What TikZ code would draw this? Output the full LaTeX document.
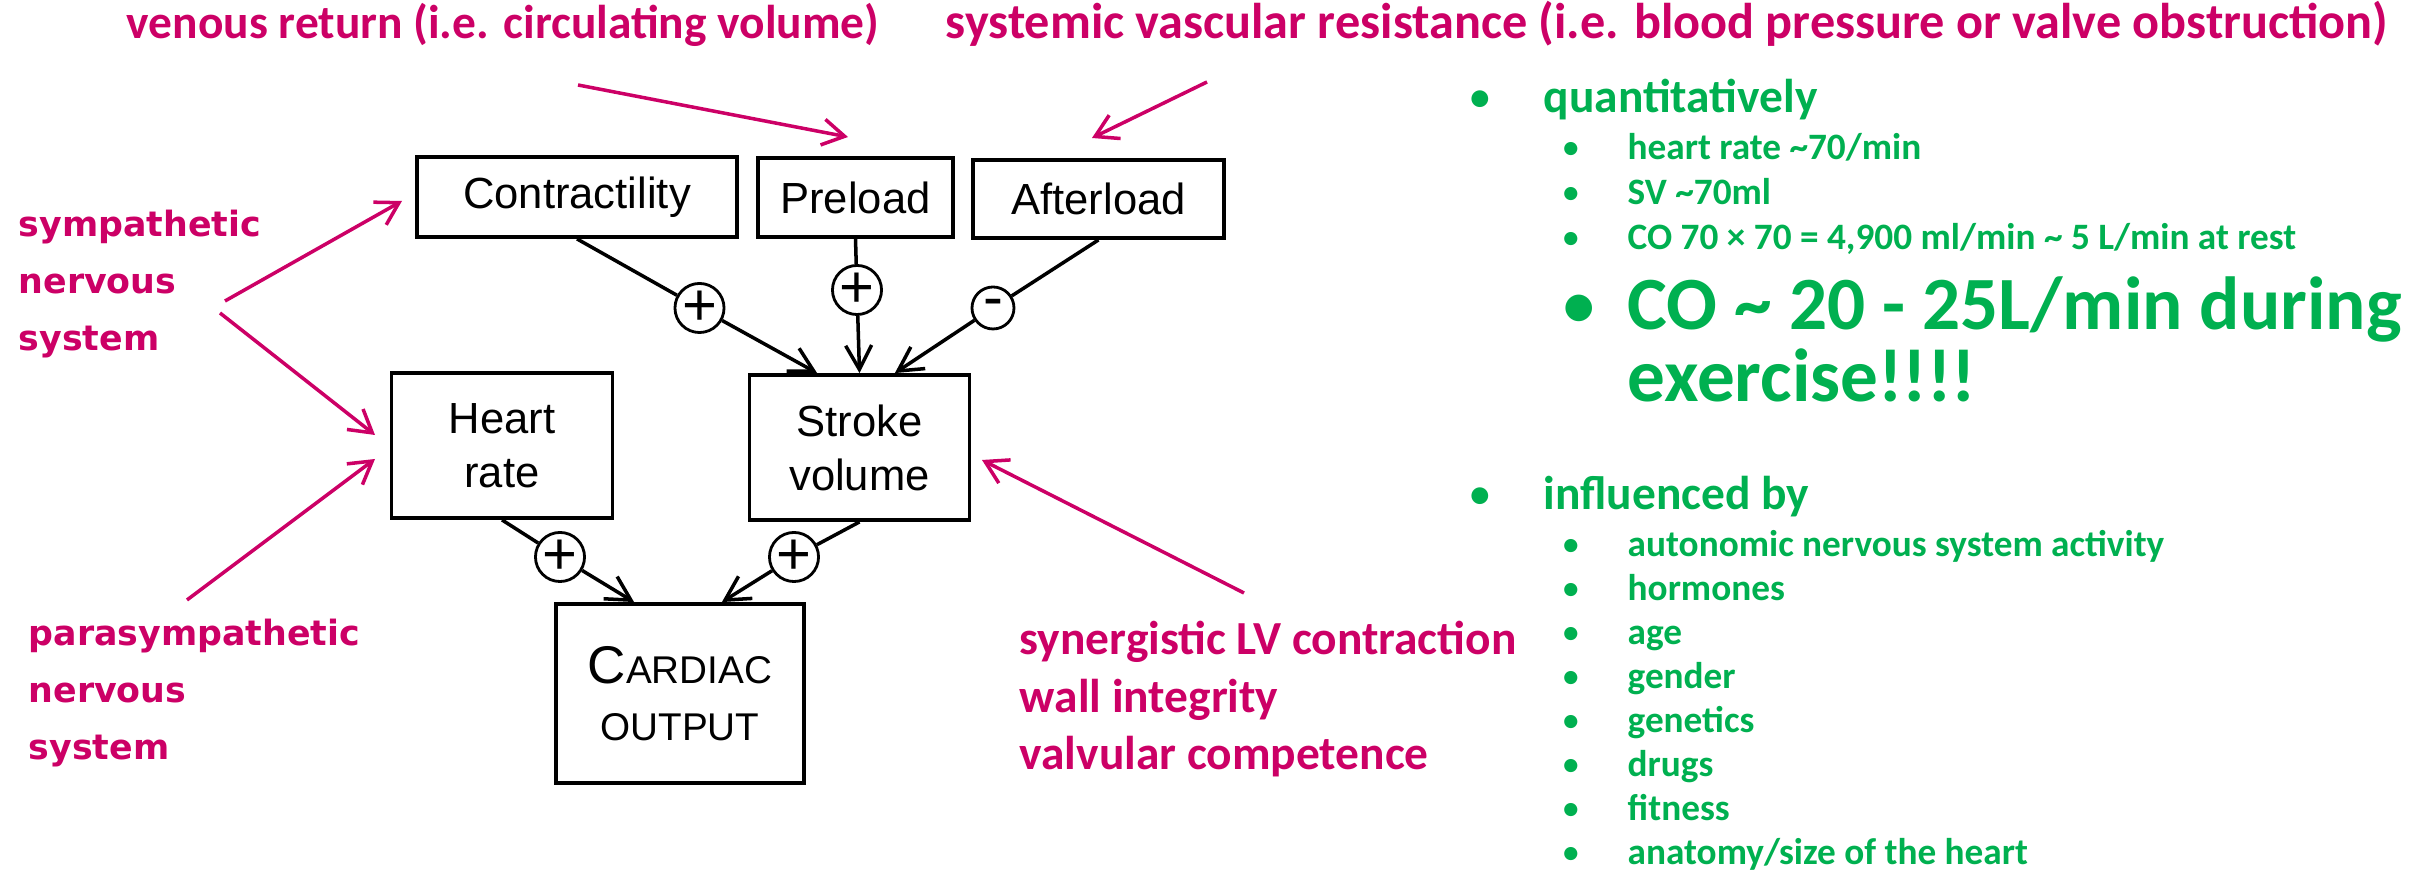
\documentclass[tikz,border=0pt]{standalone}
\usepackage{fontspec}
\setmainfont{Carlito}
\newfontfamily\boxfont{Liberation Sans}
\newfontfamily\nervefont{DejaVu Sans}
\usetikzlibrary{arrows.meta,positioning}
\definecolor{notepink}{RGB}{204,0,102}
\definecolor{notegreen}{RGB}{0,176,80}

\begin{document}
\begin{tikzpicture}[
		x=0.1mm, y=-0.1mm,
		block/.style={
			draw,
			line width=1.1pt,
			font=\boxfont\fontsize{12.4}{15.4}\selectfont,
			align=center,
			inner sep=0pt
		},
		sign/.style={
			draw,
			circle,
			line width=0.8pt,
			minimum size=4.2mm,
			inner sep=0pt,
			font=\boxfont\fontsize{17}{17}\selectfont
		},
		link/.style={line width=1pt},
		pointer/.style={
			notepink,
			line width=1pt,
			-{Straight Barb[length=2.2mm,width=2.6mm]}
		},
		note/.style={text=notepink, inner sep=0pt, anchor=base west,
			font=\bfseries\fontsize{13.5}{16.4}\selectfont},
		nerve/.style={text=notepink, inner sep=0pt, anchor=base west,
			font=\nervefont\bfseries\fontsize{9.9}{16.2}\selectfont},
		item/.style={text=notegreen, inner sep=0pt, anchor=base west,
			font=\bfseries\fontsize{13.5}{16.4}\selectfont},
		subitem/.style={text=notegreen, inner sep=0pt, anchor=base west,
			font=\bfseries\fontsize{10.6}{12.8}\selectfont},
		bigitem/.style={text=notegreen, inner sep=0pt, anchor=base west,
			font=\bfseries\fontsize{21.4}{20.5}\selectfont},
		dot/.style={text=notegreen, inner sep=0pt, anchor=base},
		>={Straight Barb[length=2.4mm,width=2.6mm]}
		]
		\useasboundingbox (0,0) rectangle (2427,878);
		
		% the boxes
		\node[block, minimum width=32mm, minimum height=8mm] (contr) at (577,197) {Contractility};
		\node[block, minimum width=19.5mm, minimum height=7.9mm] (pre) at (855.5,197.5) {Preload};
		\node[block, minimum width=25.1mm, minimum height=7.8mm] (after) at (1098.5,199) {Afterload};
		\node[block, minimum width=22.1mm, minimum height=14.5mm] (hr) at (502,445.5) {Heart\\rate};
		\node[block, minimum width=22mm, minimum height=14.5mm] (sv) at (859.5,447.5) {Stroke\\volume};
		\node[block, minimum width=24.8mm, minimum height=17.9mm,
			font=\boxfont\fontsize{11}{16.2}\selectfont] (co) at (680,693.5)
			{{\fontsize{15.1}{16.2}\selectfont C}ARDIAC\\OUTPUT};
		
		\node[sign] (c1) at (699.5,308) {+};
		\node[sign] (c2) at (857,290) {+};
		\node[sign] (c3) at (993,308) {-};
		\node[sign] (c4) at (560,557) {+};
		\node[sign] (c5) at (794,557) {+};
		
		\coordinate (svin1) at ([xshift=6.95mm]sv.north west);
		\coordinate (svin3) at ([xshift=-7.65mm]sv.north east);
		\coordinate (coin1) at ([xshift=8mm]co.north west);
		\coordinate (coin2) at ([xshift=-8.4mm]co.north east);
		
		\foreach \a/\b/\c in {contr/c1/svin1, pre/c2/sv.north, after/c3/svin3, hr/c4/coin1, sv/c5/coin2}
		{
			\draw[link] (\a.south) -- (\b);
			\draw[link,->] (\b) -- (\c);
		}
		
		% pink notes
		\node[note] (venous) at (126,39) {venous return (i.e. circulating volume)};
		\node[note, font=\bfseries\fontsize{14.3}{17}\selectfont] (svr) at (945,39)
			{systemic vascular resistance (i.e. blood pressure or valve obstruction)};
		
		\foreach \w [count=\i] in {sympathetic,nervous,system}
		\node[nerve] (symp\i) at (18,{180+57*\i}) {\w};
		\foreach \w [count=\i] in {parasympathetic,nervous,system}
		\node[nerve] (para\i) at (28,{589+57*\i}) {\w};
		\foreach \w [count=\i] in {synergistic LV contraction,wall integrity,valvular competence}
		\node[note] (syn\i) at (1019,{597.5+57.5*\i}) {\w};
		
		\coordinate (venfrom) at (578,85);
		\coordinate (vento) at (848,137);
		\coordinate (svrfrom) at (1207,82);
		\coordinate (svrto) at (1092,138);
		\coordinate (sympfrom) at (225,301);
		\coordinate (sympto) at (402,201);
		\coordinate (sympfrom2) at (220,313);
		\coordinate (sympto2) at (375,435);
		\coordinate (parafrom) at (187,600);
		\coordinate (parato) at (375,459);
		\coordinate (synfrom) at (1244,593);
		\coordinate (synto) at (982,460);
		
		\foreach \p in {ven,svr,symp,para,syn}
		\draw[pointer] (\p from) -- (\p to);
		\draw[pointer] (sympfrom2) -- (sympto2);
		
		% green list
		\node[dot, font=\fontsize{13.5}{16}\selectfont] (qdot) at (1480,113) {•};
		\node[item] (quant) at (1543,113) {quantitatively};
		\foreach \txt [count=\i] in {heart rate \textasciitilde70/min, SV \textasciitilde70ml, {CO 70 × 70 = 4,900 ml/min \textasciitilde{} 5 L/min at rest}}
		{
			\node[dot, font=\fontsize{10.6}{12}\selectfont] (qsdot\i) at (1571,{115+45*\i}) {•};
			\node[subitem] (qsub\i) at (1627,{115+45*\i}) {\txt};
		}
		\node[dot, font=\fontsize{21.4}{20}\selectfont] (bigdot) at (1579,330) {•};
		\node[bigitem] (big1) at (1627,330) {CO \textasciitilde{} 20 - 25L/min during};
		\node[bigitem] (big2) at (1627,402) {exercise!!!!};
		
		\node[dot, font=\fontsize{13.5}{16}\selectfont] (idot) at (1480,510) {•};
		\node[item] (infl) at (1543,510) {influenced by};
		\foreach \txt [count=\i] in {autonomic nervous system activity, hormones, age, gender, genetics, drugs, fitness, anatomy/size of the heart}
		{
			\node[dot, font=\fontsize{10.6}{12}\selectfont] (isdot\i) at (1571,{513+44*\i}) {•};
			\node[subitem] (isub\i) at (1627,{513+44*\i}) {\txt};
		}
		
\end{tikzpicture}
\end{document}
